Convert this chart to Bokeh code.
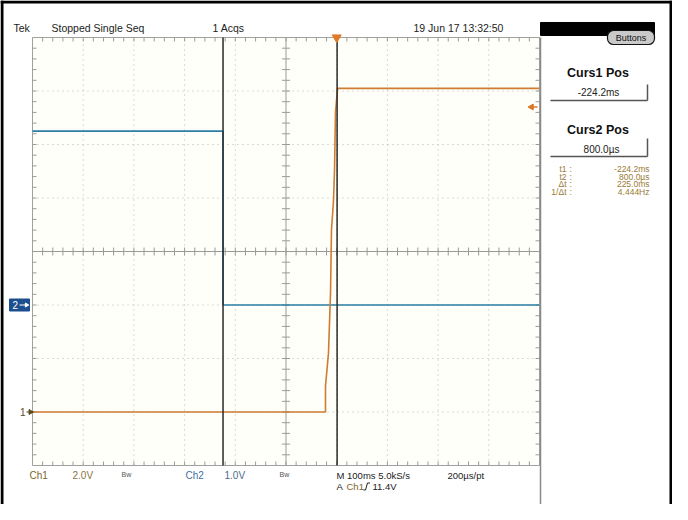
from bokeh.plotting import figure
from bokeh.models import Range1d
from bokeh.core.properties import value
from bokeh.embed import file_html
from bokeh.resources import INLINE

# ---------------- data ----------------
ch1_time_ms = [-600.0, -22.1, -22.1, -16.2, -12.2, -10.3, -6.3, -4.3, -2.4, 1.6, 400.0]
ch1_volts = [0.0, 0.0, 0.97, 2.2, 4.45, 6.8, 7.9, 9.05, 11.2, 12.1, 12.1]
ch2_time_ms = [-600.0, -224.2, -224.2, 400.0]
ch2_volts = [3.25, 3.25, 0.0, 0.0]

ch1_volts_per_div = 2.0
ch2_volts_per_div = 1.0
ch1_ground_div = -3.0
ch2_ground_div = -1.0
time_per_div_ms = 100.0
screen_start_ms = -600.0
n_hdiv = 10
n_vdiv = 8
minor_per_div = 5

cursor_times_ms = [-224.2, 0.8]
trigger_time_ms = 0.0
trigger_level_v = 11.4

header_texts = ["Tek", "Stopped Single Seq", "1 Acqs", "19 Jun 17 13:32:50"]
cursor_titles = ["Curs1 Pos", "Curs2 Pos"]
cursor_values = ["-224.2ms", "800.0\u00b5s"]
readout_labels = ["t1", "t2", "\u0394t", "1/\u0394t"]
readout_values = ["-224.2ms", "800.0\u00b5s", "225.0ms", "4.444Hz"]

# ---------------- layout (page pixels) ----------------
W, H = 672, 504
PX0, PY0 = 8, 8                      # page offset of the figure
G_LEFT, G_RIGHT, G_TOP, G_BOTTOM = 40, 547, 45, 473
screen_end_ms = screen_start_ms + n_hdiv * time_per_div_ms
px_per_ms = (G_RIGHT - G_LEFT) / (screen_end_ms - screen_start_ms)
px_per_div = (G_BOTTOM - G_TOP) / n_vdiv
y_center = (G_TOP + G_BOTTOM) / 2.0

t_lo = screen_start_ms - (G_LEFT - PX0) / px_per_ms
t_hi = screen_start_ms + (PX0 + W - G_LEFT) / px_per_ms
d_hi = (y_center - PY0) / px_per_div
d_lo = (y_center - (PY0 + H)) / px_per_div

p = figure(width=W, height=H, x_range=Range1d(PX0, PX0 + W), y_range=Range1d(PY0 + H, PY0),
           output_backend="svg", toolbar_location=None, min_border=0,
           x_axis_type=None, y_axis_type=None)
p.outline_line_color = None
p.background_fill_color = "white"
p.border_fill_color = "white"
p.extra_x_ranges = {"t": Range1d(t_lo, t_hi)}
p.extra_y_ranges = {"div": Range1d(d_lo, d_hi)}
TD = dict(x_range_name="t", y_range_name="div")

FONT = value("Liberation Sans")

# graticule background
half_v = n_vdiv / 2
p.quad(left=[screen_start_ms], right=[screen_end_ms], bottom=[-half_v], top=[half_v],
       fill_color="#fffffa", line_color="#a0a0a0", line_width=1, **TD)

# dotted division lines
mid_h = n_hdiv // 2
vx = [screen_start_ms + k * time_per_div_ms for k in range(1, n_hdiv) if k != mid_h]
p.segment(x0=vx, y0=[-half_v] * len(vx), x1=vx, y1=[half_v] * len(vx),
          line_color="#b4b4b4", line_dash="1 4", line_width=1, **TD)
hy = [float(k) for k in range(-int(half_v) + 1, int(half_v)) if k != 0]
p.segment(x0=[screen_start_ms] * len(hy), y0=hy, x1=[screen_end_ms] * len(hy), y1=hy,
          line_color="#b4b4b4", line_dash="1 4", line_width=1, **TD)

# center axes
t_mid = screen_start_ms + mid_h * time_per_div_ms
p.segment(x0=[t_mid, screen_start_ms], y0=[-half_v, 0], x1=[t_mid, screen_end_ms], y1=[half_v, 0],
          line_color="#9a9a9a", line_width=1, **TD)

# minor ticks
step_t = time_per_div_ms / minor_per_div
step_d = 1.0 / minor_per_div
tk_t = [screen_start_ms + i * step_t for i in range(1, n_hdiv * minor_per_div)]
tk_d = [-half_v + i * step_d for i in range(1, n_vdiv * minor_per_div)]
tl_d = 4.0 / px_per_div
tl_t = 4.0 / px_per_ms
# on the horizontal center axis
p.segment(x0=tk_t, y0=[-tl_d] * len(tk_t), x1=tk_t, y1=[tl_d] * len(tk_t),
          line_color="#9a9a9a", line_width=1, **TD)
# on the vertical center axis
p.segment(x0=[t_mid - tl_t] * len(tk_d), y0=tk_d, x1=[t_mid + tl_t] * len(tk_d), y1=tk_d,
          line_color="#9a9a9a", line_width=1, **TD)
# border ticks
p.segment(x0=tk_t, y0=[half_v] * len(tk_t), x1=tk_t, y1=[half_v - tl_d] * len(tk_t),
          line_color="#9a9a9a", line_width=1, **TD)
p.segment(x0=tk_t, y0=[-half_v] * len(tk_t), x1=tk_t, y1=[-half_v + tl_d] * len(tk_t),
          line_color="#9a9a9a", line_width=1, **TD)
p.segment(x0=[screen_start_ms] * len(tk_d), y0=tk_d, x1=[screen_start_ms + tl_t] * len(tk_d), y1=tk_d,
          line_color="#9a9a9a", line_width=1, **TD)
p.segment(x0=[screen_end_ms] * len(tk_d), y0=tk_d, x1=[screen_end_ms - tl_t] * len(tk_d), y1=tk_d,
          line_color="#9a9a9a", line_width=1, **TD)

# traces
ch1_div = [v / ch1_volts_per_div + ch1_ground_div for v in ch1_volts]
ch2_div = [v / ch2_volts_per_div + ch2_ground_div for v in ch2_volts]
p.line(ch2_time_ms, ch2_div, line_color="#2b7fa6", line_width=1.6, **TD)
p.line(ch1_time_ms, ch1_div, line_color="#cf7c32", line_width=1.6, **TD)

# cursors
p.segment(x0=cursor_times_ms, y0=[-half_v] * 2, x1=cursor_times_ms, y1=[half_v] * 2,
          line_color="#2a2a2a", line_width=1.5, **TD)

# trigger position marker (top) and trigger level marker (right)
p.scatter(x=[trigger_time_ms], y=[half_v], marker="inverted_triangle", size=9,
          fill_color="#e07a2a", line_color="#e07a2a", **TD)
trig_div = trigger_level_v / ch1_volts_per_div + ch1_ground_div
p.segment(x0=[screen_end_ms - 2 * tl_t], y0=[trig_div], x1=[screen_end_ms - 0.5 * tl_t], y1=[trig_div],
          line_color="#d9782a", line_width=1.5, **TD)
p.scatter(x=[screen_end_ms - 2 * tl_t], y=[trig_div], marker="triangle", angle=1.5708, size=6,
          fill_color="#d9782a", line_color="#d9782a", **TD)

# ground markers (x in page px, y in divisions)
p.text(x=[33], y=[ch1_ground_div], text=["1"], text_font=FONT, text_font_size="10px",
       text_color="#5a4a22", text_align="right", text_baseline="middle", y_range_name="div")
p.segment(x0=[34], y0=[ch1_ground_div], x1=[39], y1=[ch1_ground_div], line_color="#5a4a22",
          line_width=1.2, y_range_name="div")
p.scatter(x=[38], y=[ch1_ground_div], marker="triangle", angle=-1.5708, size=5,
          fill_color="#5a4a22", line_color="#5a4a22", y_range_name="div")
bh = 6.0 / px_per_div
p.quad(left=[17], right=[37], bottom=[ch2_ground_div - bh], top=[ch2_ground_div + bh],
       fill_color="#1d4f8f", line_color="#1d4f8f", y_range_name="div")
p.text(x=[20], y=[ch2_ground_div], text=["2"], text_font=FONT, text_font_size="10px",
       text_color="white", text_align="left", text_baseline="middle", y_range_name="div")
p.segment(x0=[27], y0=[ch2_ground_div], x1=[34], y1=[ch2_ground_div], line_color="white",
          line_width=1.2, y_range_name="div")
p.scatter(x=[34], y=[ch2_ground_div], marker="triangle", angle=-1.5708, size=4,
          fill_color="white", line_color="white", y_range_name="div")

# header texts
p.text(x=[21, 59, 220, 421], y=[35] * 4, text=header_texts, text_font=FONT, text_font_size="10.5px",
       text_color="#222222", text_align="left", text_baseline="middle")

# outer frame (top, left, right)
p.segment(x0=[PX0, PX0 + 1.5, PX0 + W - 1.5], y0=[PY0 + 1.5, PY0, PY0],
          x1=[PX0 + W, PX0 + 1.5, PX0 + W - 1.5], y1=[PY0 + 1.5, PY0 + H, PY0 + H],
          line_color="black", line_width=3)

# right panel
p.segment(x0=[548], y0=[G_TOP], x1=[548], y1=[515], line_color="#8a8a8a", line_width=1.5)
p.quad(left=[548], right=[662], top=[30], bottom=[43], fill_color="black", line_color="black")
p.quad(left=[615], right=[662], top=[38], bottom=[52], fill_color="#c9c9c9", line_color="#111111",
       line_width=1.2, border_radius=6)
p.text(x=[638.5], y=[45], text=["Buttons"], text_font=FONT, text_font_size="9px",
       text_color="#111111", text_align="center", text_baseline="middle")
p.text(x=[605.5, 605.5], y=[80, 137], text=cursor_titles, text_font=FONT, text_font_size="12.5px",
       text_font_style="bold", text_color="#111111", text_align="center", text_baseline="middle")
p.text(x=[606, 609], y=[100, 157], text=cursor_values, text_font=FONT, text_font_size="10px",
       text_color="#222222", text_align="center", text_baseline="middle")
p.segment(x0=[558, 655, 558, 655], y0=[108, 92, 164, 146], x1=[655, 655, 655, 655], y1=[108, 108, 164, 164],
          line_color="#555555", line_width=1.5)
ry = [176.5, 184.0, 191.5, 199.0]
p.text(x=[574] * 4, y=ry, text=readout_labels, text_font=FONT, text_font_size="8.5px",
       text_color="#9a7b35", text_align="right", text_baseline="middle")
p.text(x=[577] * 4, y=ry, text=[":"] * 4, text_font=FONT, text_font_size="8.5px",
       text_color="#9a7b35", text_align="left", text_baseline="middle")
p.text(x=[657] * 4, y=ry, text=readout_values, text_font=FONT, text_font_size="8.5px",
       text_color="#9a7b35", text_align="right", text_baseline="middle")

# bottom status line
p.text(x=[37], y=[483], text=["Ch1"], text_font=FONT, text_font_size="10px",
       text_color="#7d6426", text_align="left", text_baseline="middle")
p.text(x=[80], y=[483], text=["2.0V"], text_font=FONT, text_font_size="10px",
       text_color="#8a7440", text_align="left", text_baseline="middle")
p.text(x=[193], y=[483], text=["Ch2"], text_font=FONT, text_font_size="10px",
       text_color="#3f6f9f", text_align="left", text_baseline="middle")
p.text(x=[232], y=[483], text=["1.0V"], text_font=FONT, text_font_size="10px",
       text_color="#4f6a88", text_align="left", text_baseline="middle")
p.text(x=[129, 287], y=[482, 482], text=["Bw", "Bw"], text_font=FONT, text_font_size="7px",
       text_color="#555555", text_align="left", text_baseline="middle")
p.text(x=[344, 455], y=[483, 483], text=["M 100ms 5.0kS/s", "200\u00b5s/pt"], text_font=FONT,
       text_font_size="9.5px", text_color="#222222", text_align="left", text_baseline="middle")
p.text(x=[344], y=[494], text=["A"], text_font=FONT, text_font_size="9.5px",
       text_color="#222222", text_align="left", text_baseline="middle")
p.text(x=[354], y=[494], text=["Ch1"], text_font=FONT, text_font_size="9.5px",
       text_color="#7d6426", text_align="left", text_baseline="middle")
p.line(x=[371, 373, 375, 377.5], y=[497.5, 497.5, 490.5, 490.5], line_color="#222222", line_width=1)
p.text(x=[380], y=[494], text=["11.4V"], text_font=FONT, text_font_size="9.5px",
       text_color="#222222", text_align="left", text_baseline="middle")

open("out.html", "w").write(file_html(p, INLINE))
